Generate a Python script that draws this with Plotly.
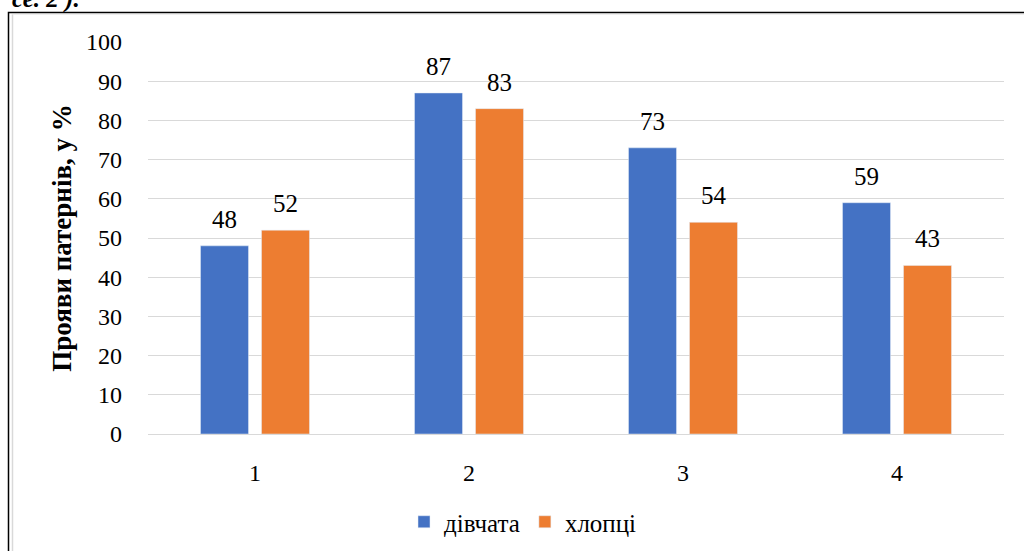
import plotly.graph_objects as go

categories = ["1", "2", "3", "4"]
girls = [48, 87, 73, 59]
boys = [52, 83, 54, 43]
series_names = ["дівчата", "хлопці"]
y_title = "Прояви патернів, у %"
y_ticks = [0, 10, 20, 30, 40, 50, 60, 70, 80, 90, 100]
colors = ["#4472C4", "#ED7D31"]

FONT = "Liberation Serif"
W, H = 1024, 551
ML, MR, MT, MB = 148, 20, 42, 117
PW, PH = W - ML - MR, H - MT - MB

def px(x):
    return (x - ML) / PW

def py(y):
    return (H - MB - y) / PH

fig = go.Figure()
for name, vals, col in zip(series_names, [girls, boys], colors):
    fig.add_trace(go.Bar(x=categories, y=vals, name=name, marker_color=col))

annotations = []
for shift, vals in zip([-30.5, 30.5], [girls, boys]):
    for i, v in enumerate(vals):
        annotations.append(dict(x=i, y=v, xref="x", yref="y", text=str(v), showarrow=False,
                                xshift=shift, yshift=11, yanchor="bottom", xanchor="center",
                                font=dict(family=FONT, size=25, color="#000000")))

annotations.append(dict(text="<b><i>се. 2 ).</i></b>", xref="paper", yref="paper", x=px(82), y=py(15),
                        xanchor="right", yanchor="bottom", showarrow=False,
                        font=dict(family=FONT, size=25, color="#000000")))

fig.update_layout(
    width=W, height=H,
    margin=dict(l=ML, r=MR, t=MT, b=MB, autoexpand=False),
    paper_bgcolor="white", plot_bgcolor="white",
    barmode="group", bargap=0.43, bargroupgap=0.213,
    font=dict(family=FONT, size=24, color="#000000"),
    showlegend=True,
    legend=dict(orientation="h", x=px(523), xanchor="center", y=py(522), yanchor="middle",
                font=dict(family=FONT, size=25, color="#000000"), itemwidth=30,
                traceorder="normal"),
    xaxis=dict(showgrid=False, showline=True, linecolor="#d9d9d9", linewidth=1,
               ticks="", tickfont=dict(family=FONT, size=24), ticklabelstandoff=17),
    yaxis=dict(range=[0, 100], tickvals=y_ticks, showgrid=True, gridcolor="#d9d9d9",
               gridwidth=1, zeroline=False, ticks="", showline=False,
               tickfont=dict(family=FONT, size=24), ticklabelstandoff=25,
               title=dict(text="<b>" + y_title + "</b>", font=dict(family=FONT, size=27),
                          standoff=6)),
    shapes=[
        dict(type="rect", xref="paper", yref="paper", x0=px(8.5), x1=px(1030), y0=py(12.5), y1=py(570),
             line=dict(color="#000000", width=1.5), fillcolor="rgba(0,0,0,0)", layer="above"),
        dict(type="line", xref="paper", yref="paper", x0=px(12.5), x1=px(12.5), y0=py(14), y1=py(570),
             line=dict(color="#d9d9d9", width=1.5)),
        dict(type="line", xref="paper", yref="paper", x0=px(12.5), x1=px(1030), y0=py(14.5), y1=py(14.5),
             line=dict(color="#eeeeee", width=1)),
    ],
    annotations=annotations,
)

fig.write_html("out.html")
